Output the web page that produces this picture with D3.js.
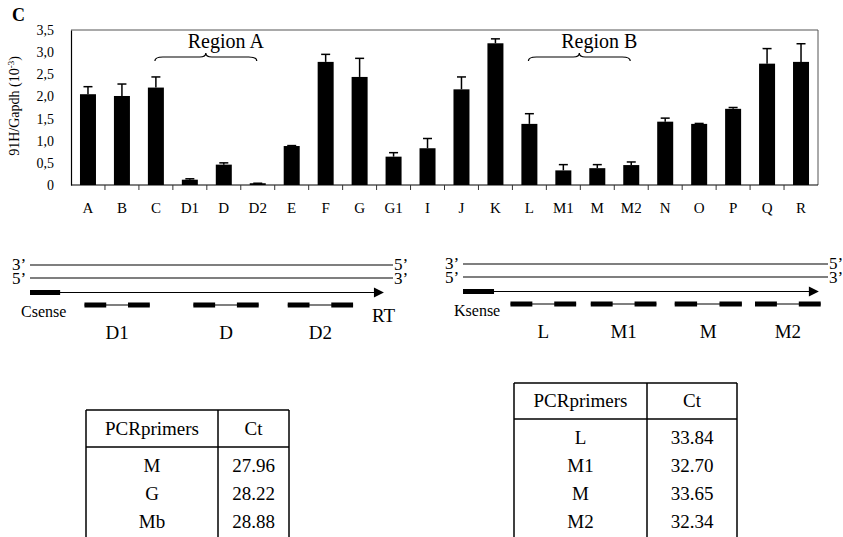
<!DOCTYPE html>
<meta charset="utf-8">
<style>
  body { margin:0; background:#fff; }
  svg text { font-family: "Liberation Serif", "Times New Roman", serif; fill:#000; }
</style>
<body>
<script src="https://cdn.jsdelivr.net/npm/d3@7"></script>
<script>
// bar chart data (91H/Gapdh, x10^-3)
var categories = ["A","B","C","D1","D","D2","E","F","G","G1","I","J","K","L","M1","M","M2","N","O","P","Q","R"];
var values = [2.05,2.01,2.20,0.12,0.46,0.04,0.88,2.78,2.44,0.64,0.83,2.16,3.20,1.38,0.33,0.38,0.45,1.43,1.38,1.72,2.74,2.78];
var errors = [0.17,0.27,0.24,0.02,0.04,0.00,0.01,0.17,0.42,0.09,0.22,0.28,0.10,0.23,0.13,0.08,0.07,0.08,0.01,0.03,0.34,0.41];
var yTicks = [0,0.5,1,1.5,2,2.5,3,3.5];
var regions = [{name:"Region A", from:"C", to:"D2"}, {name:"Region B", from:"L", to:"M2"}];

// primer diagrams (positions along template, 0-100)
var leftSense = {name:"Csense", start:0, end:8.3};
var leftPrimers = [{name:"D1", start:15, end:33}, {name:"D", start:45, end:63}, {name:"D2", start:71, end:89}];
var rightSense = {name:"Ksense", start:0, end:8.5};
var rightPrimers = [{name:"L", start:13, end:31}, {name:"M1", start:35, end:53}, {name:"M", start:58, end:76.4}, {name:"M2", start:80, end:98}];

// Ct tables
var leftPrimerNames = ["M","G","Mb"];
var leftCt = ["27.96","28.22","28.88"];
var rightPrimerNames = ["L","M1","M","M2"];
var rightCt = ["33.84","32.70","33.65","32.34"];

var W = 843, H = 537;
var svg = d3.select("body").append("svg").attr("width",W).attr("height",H);

// ---------- bar chart ----------
var pL = 71, pR = 818, pT = 30, pB = 185;
var x = d3.scaleBand().domain(categories).range([pL,pR]);
var y = d3.scaleLinear().domain([0,3.5]).range([pB,pT]);
var bw = 16;

svg.append("text").attr("x",12).attr("y",21).attr("font-size",18).attr("font-weight","bold").text("C");

// frame top / right
svg.append("path").attr("d","M"+pL+","+pT+"H"+pR+"V"+pB)
  .attr("fill","none").attr("stroke","#555").attr("stroke-width",1);

var yAxis = svg.append("g").attr("transform","translate("+pL+",0)")
  .call(d3.axisLeft(y).tickValues(yTicks).tickSize(0).tickPadding(17)
    .tickFormat(function(d){ return d===0 ? "0" : d3.format(".1f")(d).replace(".",","); }));
yAxis.attr("font-family",null);
yAxis.select(".domain").attr("stroke","#000").attr("stroke-width",1.2);
yAxis.selectAll("text").attr("font-size",14);

var ttl = svg.append("text").attr("transform","translate(19,106) rotate(-90)")
  .attr("text-anchor","middle").attr("font-size",14);
ttl.append("tspan").text("91H/Gapdh (10");
ttl.append("tspan").attr("dy",-5).attr("font-size",9).text("-3");
ttl.append("tspan").attr("dy",5).text(")");

// bottom axis with ticks at band boundaries
svg.append("line").attr("x1",pL).attr("x2",pR).attr("y1",pB).attr("y2",pB)
  .attr("stroke","#000").attr("stroke-width",1.2);
svg.selectAll(".btick").data(categories.slice(1)).enter().append("line")
  .attr("x1",function(d){return x(d);}).attr("x2",function(d){return x(d);})
  .attr("y1",pB).attr("y2",pB+5).attr("stroke","#333").attr("stroke-width",1);
svg.selectAll(".clab").data(categories).enter().append("text")
  .attr("x",function(d){return x(d)+x.bandwidth()/2;}).attr("y",213)
  .attr("text-anchor","middle").attr("font-size",15).text(function(d){return d;});

// bars
svg.selectAll(".bar").data(values).enter().append("rect")
  .attr("x",function(d,i){return x(categories[i])+x.bandwidth()/2-bw/2;})
  .attr("y",function(d){return y(d);})
  .attr("width",bw).attr("height",function(d){return pB-y(d);})
  .attr("fill","#000");

// error bars
var eb = svg.selectAll(".err").data(values).enter().append("g");
eb.append("line")
  .attr("x1",function(d,i){return x(categories[i])+x.bandwidth()/2;})
  .attr("x2",function(d,i){return x(categories[i])+x.bandwidth()/2;})
  .attr("y1",function(d){return y(d);})
  .attr("y2",function(d,i){return y(d+errors[i]);})
  .attr("stroke","#000").attr("stroke-width",1.5);
eb.append("line")
  .attr("x1",function(d,i){return x(categories[i])+x.bandwidth()/2-4.5;})
  .attr("x2",function(d,i){return x(categories[i])+x.bandwidth()/2+4.5;})
  .attr("y1",function(d,i){return y(d+errors[i]);})
  .attr("y2",function(d,i){return y(d+errors[i]);})
  .attr("stroke","#000").attr("stroke-width",1.5);

// region braces
function brace(x0,x1,yb){
  var m = (x0+x1)/2;
  return "M"+x0+","+(yb+4)+"Q"+x0+","+yb+" "+(x0+8)+","+yb+"L"+(m-6)+","+yb+
    "Q"+m+","+yb+" "+m+","+(yb-4)+"Q"+m+","+yb+" "+(m+6)+","+yb+"L"+(x1-8)+","+yb+
    "Q"+x1+","+yb+" "+x1+","+(yb+4);
}
regions.forEach(function(r){
  var x0 = x(r.from)+x.bandwidth()/2 - 1, x1 = x(r.to)+x.bandwidth()/2 - 1;
  svg.append("path").attr("d",brace(x0,x1,57)).attr("fill","none").attr("stroke","#000").attr("stroke-width",1.2);
  svg.append("text").attr("x",(x0+x1)/2+20).attr("y",48).attr("text-anchor","middle")
    .attr("font-size",20).text(r.name);
});

// ---------- primer diagrams ----------
function diagram(x0,x1,yTop,sense,primers,rtLabel){
  var p = d3.scaleLinear().domain([0,100]).range([x0,x1]);
  var g = svg.append("g");
  var y1 = yTop, y2 = yTop+13, y3 = yTop+27.5, y4 = yTop+40;
  g.append("line").attr("x1",p(0)).attr("x2",p(100)).attr("y1",y1).attr("y2",y1).attr("stroke","#000").attr("stroke-width",1.2);
  g.append("line").attr("x1",p(0)).attr("x2",p(100)).attr("y1",y2).attr("y2",y2).attr("stroke","#000").attr("stroke-width",1.2);
  g.append("line").attr("x1",p(0)).attr("x2",p(97.5)-9).attr("y1",y3).attr("y2",y3).attr("stroke","#000").attr("stroke-width",1.2);
  g.append("path").attr("d","M"+(p(97.5)-10)+","+(y3-5)+"L"+(p(97.5)-10)+","+(y3+5)+"L"+p(97.5)+","+y3+"Z")
    .attr("fill","#000");
  g.append("text").attr("x",p(0)-18).attr("y",y1+5).attr("font-size",17).text("3\u2019");
  g.append("text").attr("x",p(0)-18).attr("y",y2+6).attr("font-size",17).text("5\u2019");
  g.append("text").attr("x",p(100)+1).attr("y",y1+5).attr("font-size",17).text("5\u2019");
  g.append("text").attr("x",p(100)+1).attr("y",y2+6).attr("font-size",17).text("3\u2019");
  g.append("rect").attr("x",p(sense.start)).attr("y",y3-2.5).attr("width",p(sense.end)-p(sense.start)).attr("height",5).attr("fill","#000");
  g.append("text").attr("x",p(sense.start)-9).attr("y",y3+24).attr("font-size",16).text(sense.name);
  primers.forEach(function(pr){
    var a = p(pr.start), b = p(pr.end), t = (b-a)/3;
    g.append("line").attr("x1",a).attr("x2",b).attr("y1",y4).attr("y2",y4).attr("stroke","#000").attr("stroke-width",1.2);
    g.append("rect").attr("x",a).attr("y",y4-2.5).attr("width",t).attr("height",5).attr("fill","#000");
    g.append("rect").attr("x",b-t).attr("y",y4-2.5).attr("width",t).attr("height",5).attr("fill","#000");
    g.append("text").attr("x",(a+b)/2).attr("y",y4+34).attr("text-anchor","middle").attr("font-size",19).text(pr.name);
  });
  if(rtLabel) g.append("text").attr("x",p(100)-21).attr("y",y3+29).attr("font-size",19).text(rtLabel);
}
diagram(30,393,265,leftSense,leftPrimers,"RT");
diagram(463,828,264,rightSense,rightPrimers,null);

// ---------- Ct tables ----------
function table(xl,xd,xr,yt,yh,rowH,names,cts){
  var g = svg.append("g").attr("stroke","#000").attr("stroke-width",1.5);
  g.append("line").attr("x1",xl).attr("x2",xr).attr("y1",yt).attr("y2",yt);
  g.append("line").attr("x1",xl).attr("x2",xr).attr("y1",yh).attr("y2",yh);
  [xl,xd,xr].forEach(function(v){ g.append("line").attr("x1",v).attr("x2",v).attr("y1",yt).attr("y2",H+2); });
  var t = svg.append("g").attr("font-size",19).attr("text-anchor","middle");
  t.append("text").attr("x",(xl+xd)/2).attr("y",(yt+yh)/2+6).text("PCRprimers");
  t.append("text").attr("x",(xd+xr)/2).attr("y",(yt+yh)/2+6).text("Ct");
  names.forEach(function(n,i){
    var cy = yh + 19 + i*rowH;
    t.append("text").attr("x",(xl+xd)/2).attr("y",cy+6).text(n);
    t.append("text").attr("x",(xd+xr)/2).attr("y",cy+6).text(cts[i]);
  });
}
table(86,218,289,410,447,28,leftPrimerNames,leftCt);
table(514,647,737,383,419,28,rightPrimerNames,rightCt);
</script>
</body>
</html>
